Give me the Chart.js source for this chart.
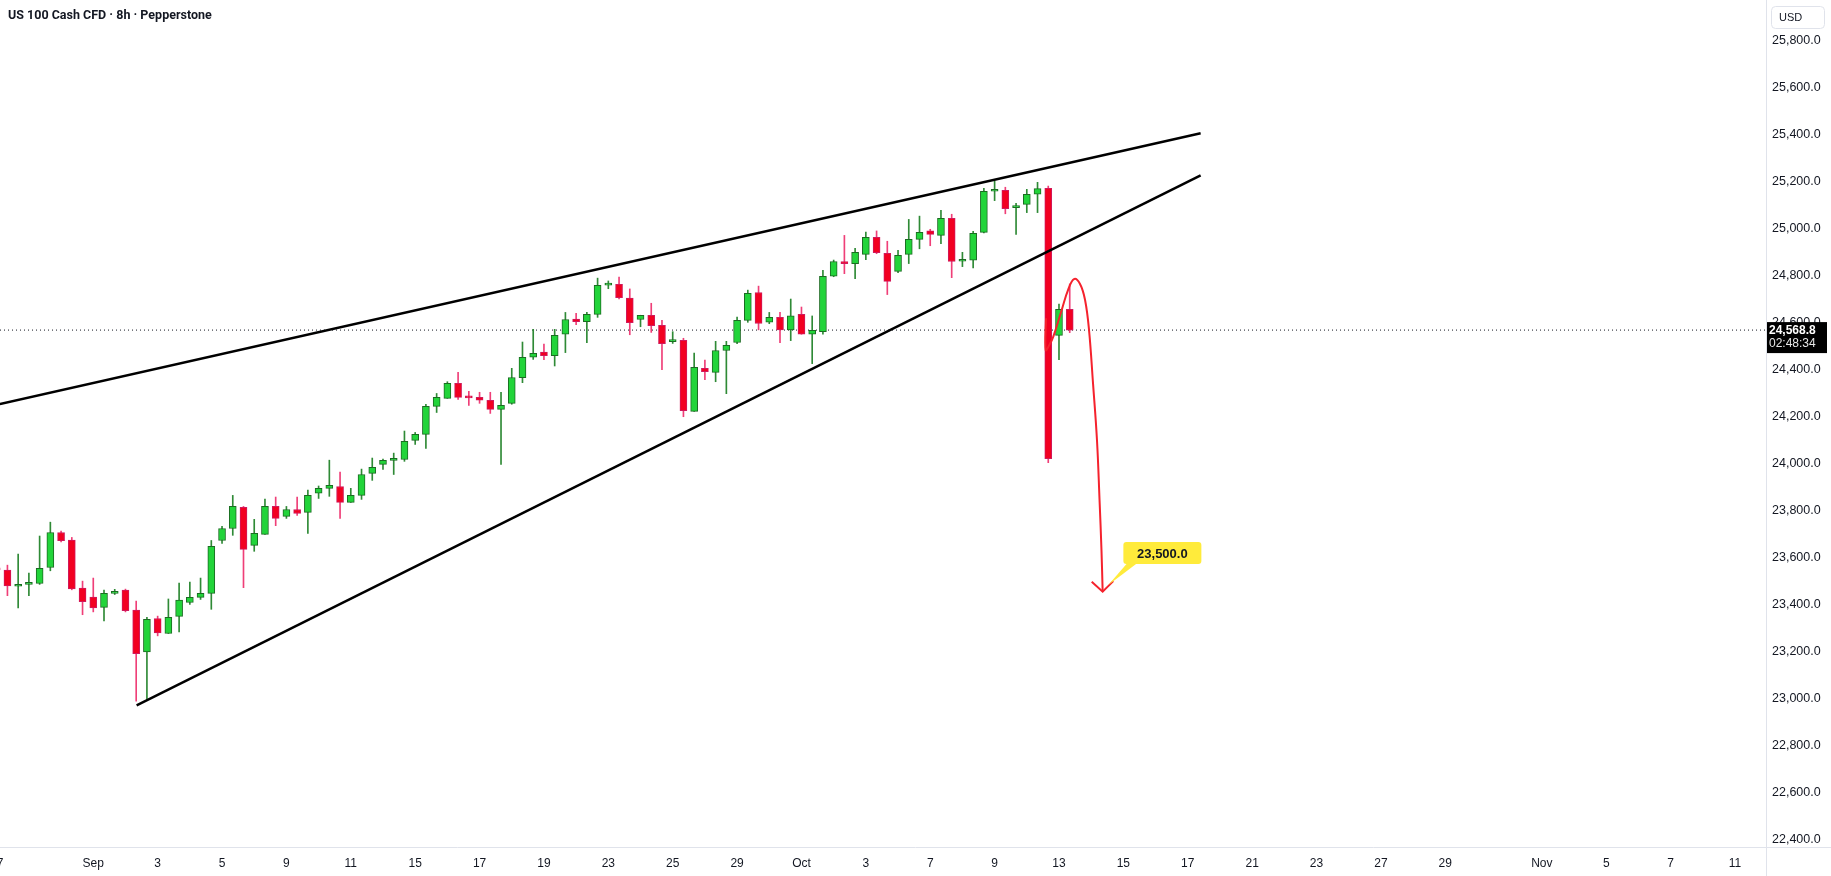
<!DOCTYPE html>
<html>
<head>
<meta charset="utf-8">
<script src="https://cdn.jsdelivr.net/npm/chart.js@4.4.1/dist/chart.umd.min.js"></script>
<style>
  html, body { margin: 0; padding: 0; background: #fff; }
  #wrap { width: 1831px; height: 876px; position: relative; }
</style>
</head>
<body>
<div id="wrap"><canvas id="c"></canvas></div>
<script>
// 8h candles, Aug 27 -> Oct 13 (index 0..100)
const opens = [
  23556, 23547, 23478, 23486, 23490, 23558, 23707, 23675, 23470, 23432,
  23388, 23448, 23462, 23377, 23199, 23341, 23277, 23350, 23409, 23431,
  23448, 23673, 23724, 23814, 23652, 23699, 23818, 23776, 23805, 23793,
  23874, 23895, 23903, 23835, 23865, 23959, 23997, 24014, 24018, 24099,
  24125, 24244, 24278, 24342, 24283, 24282, 24270, 24231, 24257, 24366,
  24453, 24475, 24460, 24551, 24616, 24605, 24636, 24760, 24764, 24705,
  24614, 24632, 24589, 24520, 24525, 24223, 24406, 24389, 24482, 24516,
  24610, 24729, 24602, 24623, 24570, 24636, 24551, 24562, 24798, 24861,
  24852, 24891, 24964, 24896, 24819, 24891, 24955, 24991, 24972, 25045,
  24862, 24866, 24985, 25160, 25164, 25090, 25104, 25147, 25172, 24546,
  24657
];
const highs = [
  23565, 23568, 23615, 23534, 23692, 23751, 23713, 23686, 23500, 23513,
  23462, 23465, 23466, 23415, 23346, 23351, 23424, 23492, 23496, 23513,
  23673, 23733, 23865, 23818, 23763, 23849, 23858, 23818, 23858, 23888,
  23905, 24015, 23964, 23895, 23977, 24024, 24020, 24045, 24139, 24133,
  24253, 24299, 24349, 24389, 24308, 24304, 24304, 24304, 24406, 24518,
  24572, 24509, 24572, 24644, 24640, 24644, 24790, 24778, 24795, 24744,
  24632, 24683, 24610, 24562, 24534, 24471, 24441, 24521, 24521, 24624,
  24739, 24756, 24644, 24644, 24701, 24667, 24629, 24823, 24867, 24972,
  24917, 24986, 24991, 24947, 24908, 25040, 25054, 24998, 25079, 25062,
  24900, 24989, 25172, 25203, 25177, 25108, 25168, 25198, 25182, 24680,
  24765
];
const lows = [
  23540, 23438, 23386, 23438, 23486, 23544, 23667, 23463, 23357, 23369,
  23331, 23443, 23369, 22989, 22993, 23267, 23277, 23284, 23401, 23422,
  23380, 23661, 23695, 23472, 23627, 23699, 23736, 23767, 23780, 23703,
  23852, 23861, 23767, 23835, 23848, 23929, 23976, 23954, 24010, 24082,
  24065, 24218, 24278, 24274, 24248, 24257, 24214, 23997, 24253, 24345,
  24444, 24443, 24416, 24473, 24592, 24515, 24623, 24745, 24701, 24549,
  24583, 24559, 24400, 24512, 24200, 24223, 24358, 24349, 24298, 24511,
  24602, 24570, 24596, 24515, 24524, 24551, 24426, 24551, 24796, 24809,
  24788, 24869, 24894, 24720, 24813, 24852, 24915, 24928, 24937, 24792,
  24839, 24834, 24983, 25120, 25064, 24976, 25069, 25069, 24004, 24443,
  24558
];
const closes = [
  23548, 23480, 23486, 23490, 23554, 23707, 23672, 23467, 23412, 23386,
  23448, 23456, 23374, 23191, 23337, 23280, 23346, 23419, 23431, 23448,
  23648, 23724, 23818, 23635, 23703, 23818, 23767, 23805, 23788, 23865,
  23895, 23908, 23835, 23865, 23954, 23984, 24014, 24023, 24095, 24125,
  24244, 24282, 24342, 24282, 24280, 24270, 24231, 24248, 24367, 24453,
  24470, 24460, 24546, 24614, 24605, 24636, 24759, 24764, 24707, 24600,
  24632, 24588, 24511, 24525, 24226, 24410, 24392, 24482, 24504, 24610,
  24725, 24597, 24623, 24570, 24629, 24551, 24568, 24798, 24861, 24852,
  24900, 24964, 24898, 24776, 24887, 24955, 24985, 24976, 25045, 24861,
  24867, 24981, 25160, 25162, 25086, 25093, 25147, 25171, 24021, 24657,
  24568.8
];

// x-axis: candle index of each date label (first 8h bar of the day)
const xTickIdx  = [0, 9, 15, 21, 27, 33, 39, 45, 51, 57, 63, 69, 75, 81, 87, 93, 99, 105, 111, 117, 123, 129, 135, 144, 150, 156, 162];
const xTickText = ["27", "Sep", "3", "5", "9", "11", "15", "17", "19", "23", "25", "29", "Oct", "3", "7", "9", "13", "15", "17", "21", "23", "27", "29", "Nov", "5", "7", "11"];
const yTicks = [22400, 22600, 22800, 23000, 23200, 23400, 23600, 23800, 24000, 24200, 24400, 24600, 24800, 25000, 25200, 25400, 25600, 25800];

// drawings (index, price)
const upperLineX = [0.3, 112.2];
const upperLineY = [24254, 25407];
const lowerLineX = [13.04, 112.2];
const lowerLineY = [22971, 25228];
const arrowX = [97.79, 97.76, 98.1, 98.47, 99.25, 99.84, 100.4, 100.96, 101.43, 101.8, 102.17, 102.54, 102.78, 102.96, 103.07];
const arrowY = [24619, 24484, 24505, 24541, 24654, 24739, 24786, 24765, 24697, 24569, 24343, 24101, 23845, 23632, 23455];
const headX = [102.05, 103.07, 104.06];
const headY = [23497, 23455, 23500];
const targetPrice = 23500;
const lastPrice = 24568.8;
const countdown = "02:48:34";

const X_MIN = 0.3075, X_MAX = 164.89;
const Y_MIN = 22368, Y_MAX = 25974.2;

const UP = "#22d43a", UP_EDGE = "#1b6b22", UP_WICK = "#2f8a36";
const DN = "#f20021", DN_EDGE = "#d0195c", DN_WICK = "#ef3f78";
const FONT = "'Liberation Sans', Arial, sans-serif";

const idx = closes.map((_, i) => i);
const isUp = idx.map(i => closes[i] >= opens[i]);
const pts = (xs, ys) => xs.map((x, k) => ({ x, y: ys[k] }));
const fmt = (v) => v.toLocaleString("en-US", { minimumFractionDigits: 1, maximumFractionDigits: 1 });

function roundRect(ctx, x, y, w, h, r) {
  ctx.beginPath();
  ctx.moveTo(x + r, y);
  ctx.arcTo(x + w, y, x + w, y + h, r);
  ctx.arcTo(x + w, y + h, x, y + h, r);
  ctx.arcTo(x, y + h, x, y, r);
  ctx.arcTo(x, y, x + w, y, r);
  ctx.closePath();
}

const overlay = {
  id: "overlay",
  afterDraw(chart) {
    const { ctx, chartArea: a, scales } = chart;
    const xs = scales.x, ys = scales.y;
    ctx.save();
    // frame lines
    ctx.strokeStyle = "#e0e3eb";
    ctx.lineWidth = 1;
    ctx.beginPath();
    ctx.moveTo(a.right + 0.5, 0); ctx.lineTo(a.right + 0.5, chart.height);
    ctx.moveTo(0, a.bottom + 0.5); ctx.lineTo(chart.width, a.bottom + 0.5);
    ctx.stroke();

    // title
    ctx.fillStyle = "#131722";
    ctx.font = "bold 12.5px Roboto, " + FONT;
    ctx.textBaseline = "middle";
    ctx.textAlign = "left";
    ctx.fillText("US 100 Cash CFD \u00b7 8h \u00b7 Pepperstone", 8, 16);

    // USD box
    ctx.strokeStyle = "#e0e3eb";
    roundRect(ctx, 1771.5, 6.5, 53, 22, 4);
    ctx.fillStyle = "#fff";
    ctx.fill();
    ctx.stroke();
    ctx.fillStyle = "#131722";
    ctx.font = "11px " + FONT;
    ctx.fillText("USD", 1779, 18);

    // last price box
    const py = ys.getPixelForValue(lastPrice);
    ctx.fillStyle = "#000";
    ctx.fillRect(a.right + 1, py - 8, 60, 31);
    ctx.fillStyle = "#fff";
    ctx.font = "bold 12px " + FONT;
    ctx.fillText(fmt(lastPrice), 1769, py + 1);
    ctx.fillStyle = "#e6e6e6";
    ctx.font = "12px " + FONT;
    ctx.fillText(countdown, 1769, py + 14);

    // target callout
    const bx = xs.getPixelForValue(105.0);
    const by = ys.getPixelForValue(23620);
    const bw = 78, bh = 22;
    ctx.fillStyle = "#ffeb3b";
    ctx.beginPath();
    ctx.moveTo(bx + 4, by + bh / 2 - 1);
    ctx.lineTo(bx + 14, by + bh / 2 - 1);
    ctx.lineTo(xs.getPixelForValue(103.6), ys.getPixelForValue(23483));
    ctx.closePath();
    ctx.fill();
    roundRect(ctx, bx, by - bh / 2, bw, bh, 3);
    ctx.fill();
    ctx.fillStyle = "#131722";
    ctx.font = "bold 13px " + FONT;
    ctx.textAlign = "center";
    ctx.fillText(fmt(targetPrice), bx + bw / 2, by + 1);
    ctx.restore();
  }
};

const lineDs = (data, color, width, extra) => Object.assign({
  type: "line", data, borderColor: color, borderWidth: width,
  pointRadius: 0, fill: false, order: 0
}, extra || {});

const noPad = (s) => { s.paddingLeft = 0; s.paddingRight = 0; s.paddingTop = 0; s.paddingBottom = 0; };

new Chart(document.getElementById("c"), {
  type: "bar",
  data: {
    datasets: [
      {
        label: "body",
        data: idx.map(i => ({ x: i, y: [opens[i], closes[i]] })),
        backgroundColor: idx.map(i => isUp[i] ? UP : DN),
        borderColor: idx.map(i => isUp[i] ? UP_EDGE : DN_EDGE),
        borderWidth: 1,
        borderSkipped: false,
        barThickness: 7,
        minBarLength: 2,
        grouped: false,
        order: 1
      },
      {
        label: "wick",
        data: idx.map(i => ({ x: i, y: [lows[i], highs[i]] })),
        backgroundColor: idx.map(i => isUp[i] ? UP_WICK : DN_WICK),
        borderWidth: 0,
        barThickness: 1,
        grouped: false,
        order: 2
      },
      lineDs([{ x: X_MIN, y: lastPrice }, { x: X_MAX, y: lastPrice }], "#131722", 1, { borderDash: [1, 3], order: 3 }),
      lineDs(pts(upperLineX, upperLineY), "#000", 2.5),
      lineDs(pts(lowerLineX, lowerLineY), "#000", 2.5),
      lineDs(pts(arrowX, arrowY), "#f5222d", 2, { tension: 0.4 }),
      lineDs(pts(headX, headY), "#f5222d", 2)
    ]
  },
  options: {
    responsive: true,
    maintainAspectRatio: false,
    animation: false,
    devicePixelRatio: 1,
    layout: { padding: 0 },
    plugins: { legend: { display: false }, tooltip: { enabled: false } },
    scales: {
      x: {
        type: "linear",
        min: X_MIN,
        max: X_MAX,
        offset: false,
        grid: { display: false, drawTicks: false },
        border: { display: false },
        afterBuildTicks: (s) => { s.ticks = xTickIdx.map(v => ({ value: v })); },
        afterFit: (s) => { s.height = 29; noPad(s); },
        ticks: {
          autoSkip: false,
          maxRotation: 0,
          padding: 9,
          color: "#131722",
          font: { family: FONT, size: 12 },
          callback: (v) => xTickText[xTickIdx.indexOf(v)]
        }
      },
      y: {
        type: "linear",
        position: "right",
        min: Y_MIN,
        max: Y_MAX,
        grid: { display: false, drawTicks: false },
        border: { display: false },
        afterBuildTicks: (s) => { s.ticks = yTicks.map(v => ({ value: v })); },
        afterFit: (s) => { s.width = 65; noPad(s); },
        ticks: {
          padding: 6,
          color: "#131722",
          font: { family: FONT, size: 12.5 },
          callback: (v) => fmt(v)
        }
      }
    }
  },
  plugins: [overlay]
});
</script>
</body>
</html>
